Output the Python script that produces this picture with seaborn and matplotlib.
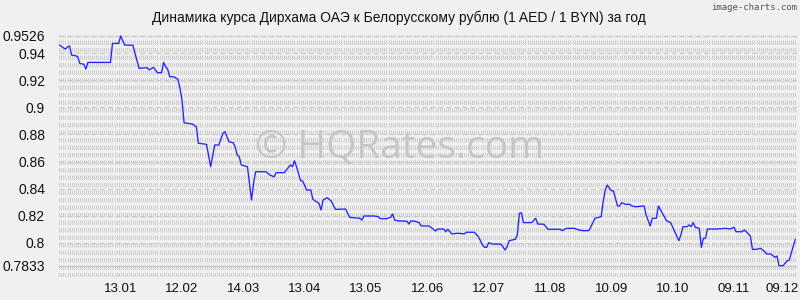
import matplotlib
matplotlib.use("Agg")
import matplotlib.pyplot as plt
import matplotlib.dates as mdates
import matplotlib.transforms as mtransforms
import numpy as np
import pandas as pd
import seaborn as sns

# ---------------- data ----------------
START_DATE = "2024-12-14"
day_offsets = [0, 3, 4, 5, 6, 8, 9, 10, 12, 13, 14, 25, 26, 29, 30, 32, 36, 37, 39, 43,
               44, 46, 48, 50, 51, 52, 53, 54, 56, 58, 59, 60, 61, 65, 67, 68, 72, 74, 76, 78,
               80, 81, 83, 85, 86, 87, 88, 89, 92, 94, 95, 96, 101, 103, 105, 106, 110, 113, 114, 115,
               116, 118, 119, 121, 123, 124, 127, 128, 129, 131, 133, 135, 140, 142, 147, 148, 149, 154, 156, 157,
               160, 162, 163, 164, 166, 168, 170, 171, 172, 174, 176, 177, 181, 184, 185, 188, 189, 190, 192, 194,
               196, 198, 199, 203, 205, 207, 208, 209, 210, 212, 216, 218, 219, 220, 223, 224, 225, 226, 227, 231,
               233, 234, 237, 239, 245, 246, 248, 252, 254, 256, 259, 260, 262, 265, 266, 267, 268, 270, 271, 273,
               274, 275, 277, 279, 280, 282, 286, 287, 289, 290, 292, 293, 295, 297, 299, 301, 303, 304, 305, 307,
               308, 309, 310, 311, 313, 314, 315, 316, 317, 321, 326, 328, 330, 331, 334, 335, 336, 338, 339, 341,
               343, 345, 346, 348, 350, 351, 352, 354, 356, 357, 359, 360]
rates = [0.9459, 0.9429, 0.9446, 0.9452, 0.9385, 0.9380, 0.9373, 0.9324, 0.9317, 0.9282, 0.9331, 0.9331, 0.9471, 0.9471, 0.9526, 0.9459, 0.9457, 0.9398, 0.9287, 0.9292,
         0.9275, 0.9295, 0.9255, 0.9255, 0.9331, 0.9299, 0.9280, 0.9225, 0.9225, 0.9206, 0.9140, 0.9054, 0.8886, 0.8877, 0.8857, 0.8735, 0.8727, 0.8562, 0.8722, 0.8722,
         0.8808, 0.8820, 0.8746, 0.8739, 0.8709, 0.8648, 0.8636, 0.8575, 0.8562, 0.8317, 0.8440, 0.8525, 0.8525, 0.8501, 0.8488, 0.8518, 0.8518, 0.8575, 0.8562, 0.8606,
         0.8562, 0.8459, 0.8457, 0.8390, 0.8390, 0.8322, 0.8292, 0.8243, 0.8317, 0.8334, 0.8309, 0.8248, 0.8250, 0.8189, 0.8182, 0.8169, 0.8199, 0.8199, 0.8194, 0.8179,
         0.8179, 0.8189, 0.8214, 0.8169, 0.8162, 0.8162, 0.8160, 0.8140, 0.8164, 0.8160, 0.8150, 0.8125, 0.8125, 0.8088, 0.8103, 0.8103, 0.8083, 0.8101, 0.8066, 0.8071,
         0.8071, 0.8066, 0.8079, 0.8079, 0.8046, 0.7985, 0.7968, 0.7968, 0.8002, 0.7992, 0.7992, 0.7948, 0.7973, 0.8017, 0.8027, 0.8059, 0.8219, 0.8223, 0.8150, 0.8150,
         0.8182, 0.8140, 0.8138, 0.8101, 0.8101, 0.8091, 0.8108, 0.8108, 0.8096, 0.8091, 0.8091, 0.8120, 0.8182, 0.8194, 0.8304, 0.8390, 0.8427, 0.8385, 0.8385, 0.8273,
         0.8273, 0.8297, 0.8285, 0.8285, 0.8273, 0.8267, 0.8273, 0.8206, 0.8125, 0.8182, 0.8182, 0.8273, 0.8219, 0.8164, 0.8150, 0.8083, 0.8017, 0.8059, 0.8120, 0.8120,
         0.8133, 0.8120, 0.8150, 0.8116, 0.8108, 0.7968, 0.8034, 0.8034, 0.8103, 0.8103, 0.8108, 0.8103, 0.8116, 0.8083, 0.8083, 0.8096, 0.8083, 0.8051, 0.7953, 0.7953,
         0.7961, 0.7936, 0.7919, 0.7919, 0.7894, 0.7904, 0.7833, 0.7833, 0.7869, 0.7874, 0.7978, 0.8027]

x_tick_dates = ["2025-01-13", "2025-02-12", "2025-03-14", "2025-04-13", "2025-05-13", "2025-06-12",
                "2025-07-12", "2025-08-11", "2025-09-10", "2025-10-10", "2025-11-09", "2025-12-09"]
y_ticks = [0.7833, 0.8, 0.82, 0.84, 0.86, 0.88, 0.9, 0.92, 0.94, 0.9526]
y_tick_labels = ["0.7833", "0.8", "0.82", "0.84", "0.86", "0.88", "0.9", "0.92", "0.94", "0.9526"]

title = "Динамика курса Дирхама ОАЭ к Белорусскому рублю (1 AED / 1 BYN) за год"
watermark = "© HQRates.com"
credit = "image-charts.com"

# ---------------- style ----------------
sns.set_style("white")
plt.rcParams["font.family"] = ["Liberation Sans", "DejaVu Sans"]
plt.rcParams["lines.scale_dashes"] = False
BG = "#f0f0f0"

start = pd.Timestamp(START_DATE)
df = pd.DataFrame({"date": start + pd.to_timedelta(day_offsets, unit="D"), "rate": rates})

fig = plt.figure(figsize=(8, 3), dpi=100, facecolor=BG)
ax = fig.add_axes([59 / 800, 23 / 300, 738 / 800, 242 / 300])
ax.set_facecolor(BG)

x_lo = start - pd.Timedelta(hours=4)
x_hi = start + pd.Timedelta(days=360.8)
y_lo, y_hi = 0.77493, 0.95330
ax.set_xlim(x_lo, x_hi)
ax.set_ylim(y_lo, y_hi)

# dense texture grid: vertical dashed lines each day
grid_days = pd.date_range(start, start + pd.Timedelta(days=360), freq="D")
ax.vlines(grid_days, 0, 1, transform=ax.get_xaxis_transform(), colors="#cbcbcb",
          linewidth=0.7, linestyles=[(0, (3.2, 2.2))], zorder=0)
# faint horizontal rows
px = (y_hi - y_lo) / 242.0
rows = np.arange(y_hi - 0.6 * px, y_lo, -7.5 * px)
for r in rows:
    ax.axhline(r, color="#e0e0e0", linewidth=0.6, zorder=0.5)
# major horizontal lines
for v in y_ticks:
    if v == y_ticks[0]:
        ax.axhline(v, color="#c4c4c4", linewidth=0.8, zorder=1)
    else:
        ax.axhline(v, color="#cacaca", linewidth=0.8, linestyle=(0, (3.6, 2.2)), zorder=1)

# watermark
fig.text(0.5, 1 - 148 / 300, watermark, ha="center", va="center", fontsize=28,
         color="#c6c6c6", family=["Open Sans", "DejaVu Sans"], zorder=1)

sns.lineplot(data=df, x="date", y="rate", ax=ax, color="#2323ff", linewidth=0.95,
             zorder=3, legend=False)

ax.set_xticks(pd.to_datetime(x_tick_dates))
ax.xaxis.set_major_formatter(mdates.DateFormatter("%d.%m"))
ax.set_yticks(y_ticks)
ax.set_yticklabels(y_tick_labels)
ax.tick_params(axis="both", length=0, labelsize=10, colors="#111111")
ax.tick_params(axis="y", pad=10)
ax.tick_params(axis="x", pad=4, labelsize=9.5)
ax.set_xlabel("")
ax.set_ylabel("")
for s in ax.spines.values():
    s.set_visible(False)
ax.grid(False)

# the last date label sits at the right edge, nudged inward so it stays readable
last_label = ax.get_xticklabels()[-1]
last_label.set_transform(last_label.get_transform() +
                         mtransforms.ScaledTranslation(-13 / 100, 0, fig.dpi_scale_trans))

fig.text(0.499, 1 - 18 / 300, title, ha="center", va="center", fontsize=10, color="#111111")
fig.text(797 / 800, 1 - 7 / 300, credit, ha="right", va="center", fontsize=6.5,
         color="#555555", family="DejaVu Sans Mono")

fig.savefig("out.png", dpi=100, facecolor=BG)
